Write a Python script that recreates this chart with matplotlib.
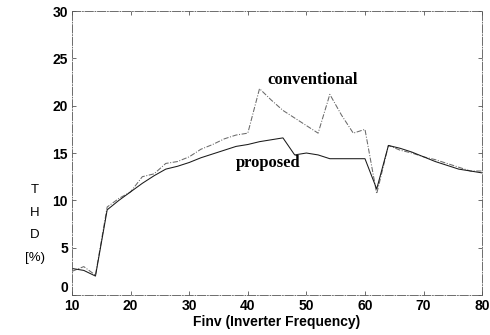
import matplotlib
matplotlib.use("Agg")
import matplotlib.pyplot as plt

freq = [10, 12, 14, 16, 18, 20, 22, 24, 26, 28, 30, 32, 34, 36, 38, 40, 42, 44,
        46, 48, 50, 52, 54, 56, 58, 60, 62, 64, 66, 68, 70, 72, 74, 76, 78, 80]
conventional = [2.5, 3.0, 2.1, 9.3, 10.2, 10.9, 12.5, 12.8, 13.9, 14.1, 14.6, 15.4,
                15.9, 16.5, 16.9, 17.1, 21.8, 20.6, 19.5, 18.7, 17.9, 17.1, 21.2, 19.0,
                17.1, 17.5, 10.7, 15.8, 15.3, 15.0, 14.6, 14.3, 13.9, 13.5, 13.1, 13.1]
proposed = [2.8, 2.6, 2.0, 9.0, 10.0, 10.9, 11.8, 12.6, 13.3, 13.6, 14.0, 14.5,
            14.9, 15.3, 15.7, 15.9, 16.2, 16.4, 16.6, 14.8, 15.0, 14.8, 14.4, 14.4,
            14.4, 14.4, 11.2, 15.8, 15.5, 15.1, 14.6, 14.1, 13.7, 13.3, 13.1, 12.9]
xticks = [10, 20, 30, 40, 50, 60, 70, 80]
yticks = [0, 5, 10, 15, 20, 25, 30]

sans = ['Liberation Sans', 'DejaVu Sans']
serif = ['Liberation Serif', 'DejaVu Serif']

fig = plt.figure(figsize=(4.9, 3.35), dpi=100)
ax = fig.add_axes([0.147, 0.1194, 0.837, 0.8476])

ax.plot(freq, conventional, color='#6a6a6a', lw=0.75, linestyle=(0, (5, 1.5, 1, 1.5)))
ax.plot(freq, proposed, color='#1a1a1a', lw=0.75)

ax.set_xlim(10, 80)
ax.set_ylim(0, 30)
ax.set_xticks(xticks)
ax.set_yticks(yticks)
ax.tick_params(direction='in', top=True, right=True, length=3, width=0.6,
               labelsize=10, pad=3, color='#555555')
for lab in ax.get_xticklabels() + ax.get_yticklabels():
    lab.set_family(sans)
    lab.set_fontweight('bold')
ax.get_yticklabels()[0].set_verticalalignment('bottom')
for s in ax.spines.values():
    s.set_linewidth(0.6)
    s.set_color('#555555')
    s.set_linestyle((0, (10, 2, 1, 2)))

ax.set_xlabel('Finv (Inverter Frequency)', family=sans, fontweight='bold',
              fontsize=10, labelpad=1)

for txt, yp in [('T', 190), ('H', 213), ('D', 235), ('[%)', 258)]:
    fig.text(35 / 490, 1 - yp / 335, txt, family=sans, fontsize=9.5,
             ha='center', va='center')

ax.text(51.0, 22.7, 'conventional', family=serif, fontweight='bold',
        fontsize=12, ha='center', va='center')
ax.text(43.4, 13.9, 'proposed', family=serif, fontweight='bold',
        fontsize=12, ha='center', va='center')

fig.savefig('out.png', dpi=100)
